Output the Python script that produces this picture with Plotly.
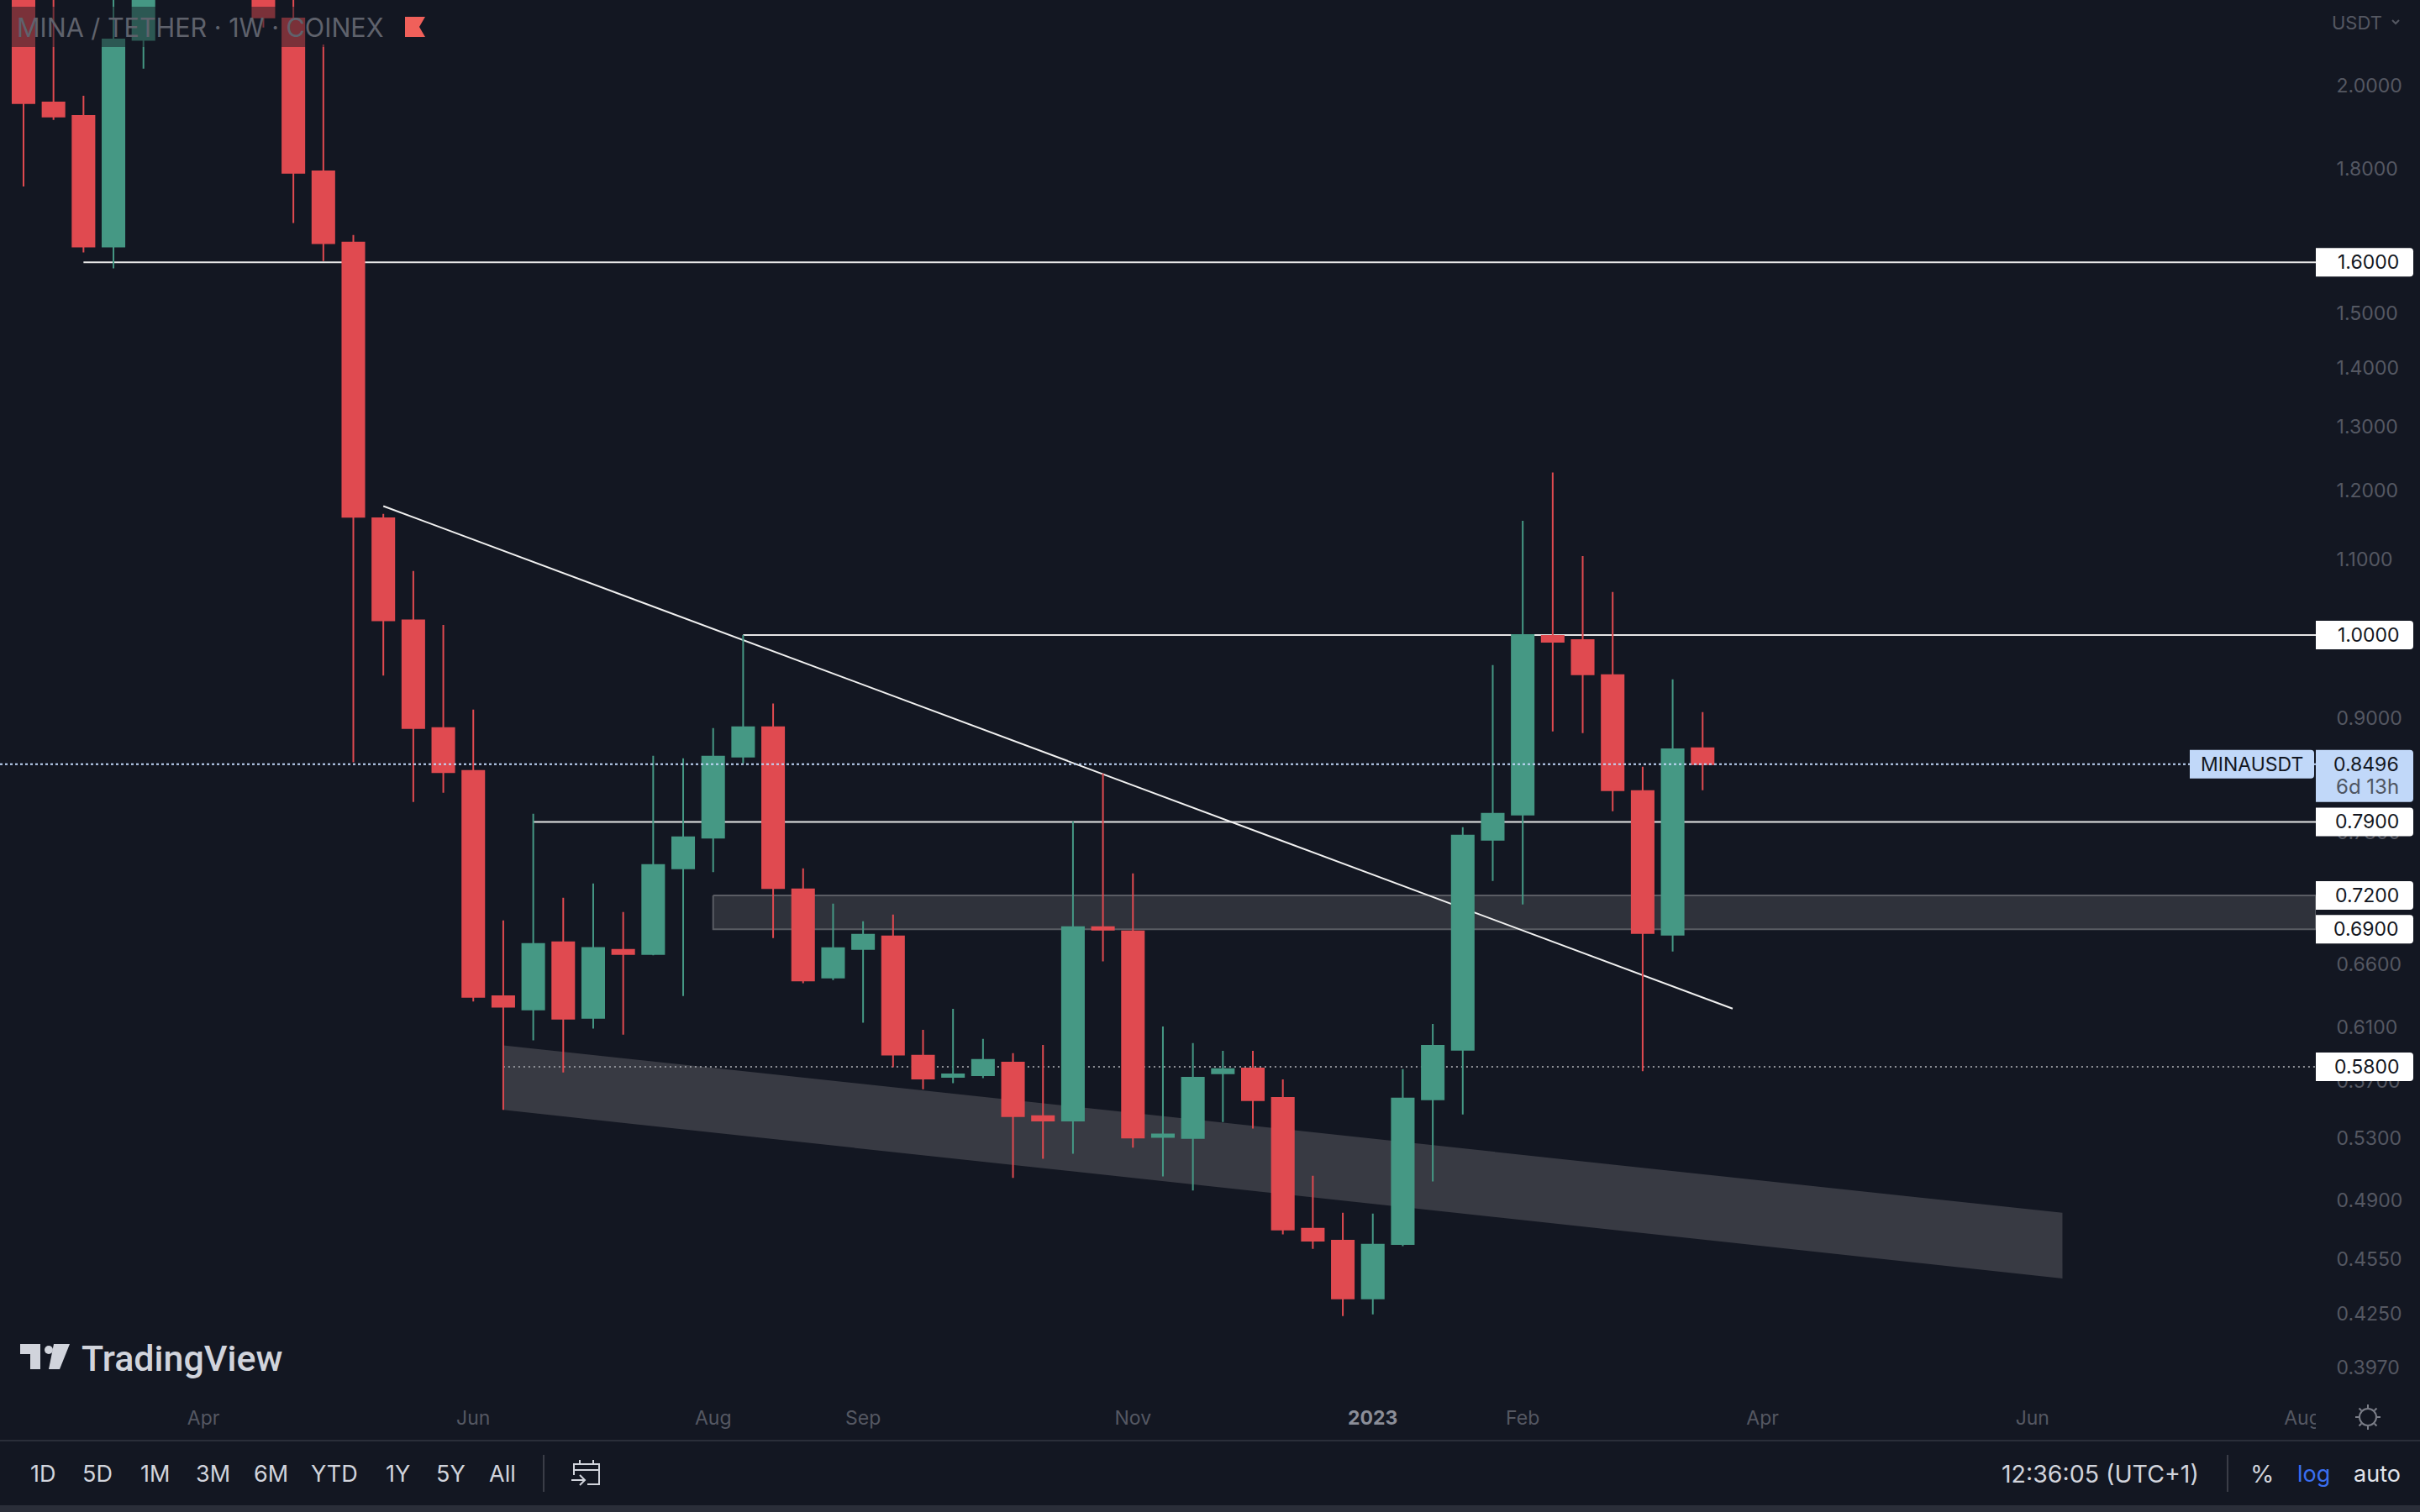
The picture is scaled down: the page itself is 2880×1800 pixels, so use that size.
import math

import pandas as pd
import plotly.graph_objects as go

BG = "#131722"
RED = "#e04a50"
GREEN = "#459884"
LINE = "#e6e6e6"
TICK = "#555862"
TOOL = "#d1d4dc"
TAG_BLUE = "#c1d8f9"
FONT = "Inter"

PLOT_W = 2756
PLOT_H = 1670

# weekly candles, the three above the visible range are left empty
weeks = pd.date_range("2022-02-21", periods=57, freq="7D")
opens = [2.30, 1.957, 1.9244, 1.632, 2.1177, None, None, None, 2.30, 2.1759,
         1.7944, 1.6401, 1.1585, 1.0186, 0.8892, 0.8425, 0.6341, 0.6235, 0.6787, 0.6170,
         0.6723, 0.6687, 0.7450, 0.7743, 0.8577, 0.8901, 0.7255, 0.6491, 0.6730, 0.6838,
         0.5882, 0.5728, 0.5740, 0.5832, 0.5450, 0.5421, 0.6918, 0.6881, 0.5310, 0.5303,
         0.5753, 0.5789, 0.5578, 0.4729, 0.4659, 0.4331, 0.4639, 0.5567, 0.5926, 0.7723,
         0.7973, 0.9988, 0.9936, 0.9506, 0.8212, 0.6853, 0.8668]
highs = [2.45, 2.35, 1.9739, 2.30, 2.60, None, None, None, 2.40, 2.30,
         2.1056, 1.6558, 1.165, 1.0841, 1.0127, 0.9102, 0.6977, 0.7981, 0.7179, 0.7309,
         0.7051, 0.8586, 0.8560, 0.8892, 1.0000, 0.9172, 0.7450, 0.7126, 0.6969, 0.7028,
         0.6078, 0.6241, 0.6008, 0.5901, 0.5963, 0.7906, 0.8397, 0.7403, 0.6104, 0.5977,
         0.5919, 0.5919, 0.5710, 0.5056, 0.4825, 0.4820, 0.5784, 0.6123, 0.7847, 0.9627,
         1.1549, 1.2272, 1.1046, 1.0556, 0.8468, 0.9456, 0.9073]
lows = [1.7605, 1.9148, 1.6199, 1.5876, 2.0426, None, None, None, 2.1514, 1.6811,
        1.6023, 0.8517, 0.9500, 0.8100, 0.8195, 0.6298, 0.5494, 0.5998, 0.5760, 0.6087,
        0.6041, 0.6676, 0.6343, 0.7414, 0.8505, 0.6824, 0.6445, 0.6472, 0.6133, 0.5797,
        0.5639, 0.5682, 0.5718, 0.5043, 0.5166, 0.5199, 0.6626, 0.5238, 0.5052, 0.4963,
        0.5410, 0.5366, 0.4696, 0.4611, 0.4236, 0.4245, 0.4627, 0.5020, 0.5462, 0.7332,
        0.7118, 0.8854, 0.8835, 0.8006, 0.5768, 0.6708, 0.8221]
closes = [1.9558, 1.9229, 1.6320, 2.119, 2.45, None, None, None, 2.1789, 1.7912,
          1.6389, 1.1605, 1.0186, 0.8892, 0.8410, 0.6336, 0.6257, 0.6773, 0.6163, 0.6738,
          0.6687, 0.7481, 0.7748, 0.8577, 0.8901, 0.7267, 0.6467, 0.6737, 0.6853, 0.5890,
          0.5716, 0.5746, 0.5851, 0.5450, 0.5421, 0.6918, 0.6896, 0.5305, 0.5326, 0.5722,
          0.5784, 0.5561, 0.4724, 0.4659, 0.4331, 0.4635, 0.5573, 0.5957, 0.7764, 0.7981,
          1.0000, 0.9914, 0.9516, 0.8221, 0.6867, 0.8658, 0.8496]

y_ticks = [2.0, 1.8, 1.6, 1.5, 1.4, 1.3, 1.2, 1.1, 1.0, 0.9, 0.78, 0.66,
           0.61, 0.57, 0.53, 0.49, 0.455, 0.425, 0.397]
x_tick_dates = ["2022-04-04", "2022-06-06", "2022-08-01", "2022-09-05", "2022-11-07",
                "2023-01-02", "2023-02-06", "2023-04-03", "2023-06-05", "2023-08-07"]
x_tick_text = ["Apr", "Jun", "Aug", "Sep", "Nov", "<b style='color:#8b8e98'>2023</b>", "Feb",
               "Apr", "Jun", "Aug"]

x_start = "2022-02-15 12:15"
x_end = "2023-08-10 03:36"

# drawn levels
level_16_start = "2022-03-07"
level_10_start = "2022-08-08"
level_079_start = "2022-06-20"
level_058_start = "2022-06-13"
zone_start = "2022-08-01"
zone_low, zone_high = 0.69, 0.72
last_price = 0.8496

trend_x = ["2022-05-16", "2023-03-27"]
trend_y = [1.1765, 0.6242]
band_x = ["2022-06-13", "2023-06-12", "2023-06-12", "2022-06-13", "2022-06-13"]
band_y = [0.5960, 0.4825, 0.4442, 0.5494, 0.5960]

tag_prices = [1.6, 1.0, 0.79, 0.72, 0.69, 0.58]
toolbar_left = ["1D", "5D", "1M", "3M", "6M", "YTD", "1Y", "5Y", "All"]
toolbar_left_x = [51, 116, 184, 253, 322, 398, 473, 536, 598]


def px(x):
    return x / PLOT_W


def py(y):
    return 1 - y / PLOT_H


def poly(points, close=False):
    parts = [f"{'M' if i == 0 else 'L'} {px(x):.6f} {py(y):.6f}" for i, (x, y) in enumerate(points)]
    return " ".join(parts) + (" Z" if close else "")


def poly_shape(points, fill=None, color=None, width=2, close=False):
    return dict(
        type="path", xref="paper", yref="paper", path=poly(points, close),
        fillcolor=fill if fill else "rgba(0,0,0,0)",
        line=dict(color=color if color else "rgba(0,0,0,0)", width=width),
    )


def rect_shape(x0, y0, x1, y1, fill):
    return dict(type="rect", xref="paper", yref="paper", x0=px(x0), x1=px(x1), y0=py(y1), y1=py(y0),
                fillcolor=fill, line=dict(width=0))


def text_note(x, y, text, size=27, color=TOOL, anchor="center", family=FONT, weight=None):
    return dict(xref="paper", yref="paper", x=px(x), y=py(y), text=text, showarrow=False,
                xanchor=anchor, yanchor="middle", font=dict(family=family, size=size, color=color, weight=weight))


def price_tag(price, x0=0, x1=116, up=17, down=17, fill="#ffffff"):
    path = (f"M {x0} {-down} L {x1 - 4} {-down} Q {x1} {-down} {x1} {-down + 4} "
            f"L {x1} {up - 4} Q {x1} {up} {x1 - 4} {up} L {x0} {up} Z")
    return dict(type="path", xref="paper", yref="y", xsizemode="pixel", ysizemode="pixel",
                xanchor=1, yanchor=price, path=path, fillcolor=fill, line=dict(width=0))


fig = go.Figure()

# zorder keeps the drawings under the candles, scatter would sit on top otherwise
fig.add_trace(go.Scatter(x=band_x, y=band_y, mode="lines", fill="toself", fillcolor="#383a43",
                         line=dict(width=0), hoverinfo="skip", zorder=0))
fig.add_trace(go.Scatter(x=[zone_start, x_end, x_end, zone_start, zone_start],
                         y=[zone_high, zone_high, zone_low, zone_low, zone_high],
                         mode="lines", fill="toself", fillcolor="#2f323b",
                         line=dict(color="#5a5c63", width=2), hoverinfo="skip", zorder=0))
for start, price in [(level_16_start, 1.6), (level_10_start, 1.0), (level_079_start, 0.79)]:
    fig.add_trace(go.Scatter(x=[start, x_end], y=[price, price], mode="lines",
                             line=dict(color=LINE, width=2), hoverinfo="skip", zorder=0))
fig.add_trace(go.Scatter(x=[level_058_start, x_end], y=[0.58, 0.58], mode="lines",
                         line=dict(color="#8f9197", width=2, dash="2px,4px"), hoverinfo="skip", zorder=0))
fig.add_trace(go.Scatter(x=trend_x, y=trend_y, mode="lines", line=dict(color="#f0f0f0", width=2),
                         hoverinfo="skip", zorder=0))

fig.add_trace(go.Candlestick(
    x=weeks, open=opens, high=highs, low=lows, close=closes,
    whiskerwidth=0,
    increasing=dict(fillcolor=GREEN, line=dict(color=GREEN, width=2)),
    decreasing=dict(fillcolor=RED, line=dict(color=RED, width=2)),
    hoverinfo="skip",
    zorder=1,
))

fig.add_trace(go.Scatter(x=[x_start, x_end], y=[last_price, last_price], mode="lines",
                         line=dict(color=TAG_BLUE, width=2, dash="3px,3px"), hoverinfo="skip", zorder=2))

shapes = []
# legend backdrop and flag
shapes.append(rect_shape(0, 8, 520, 56, "rgba(19,23,34,0.5)"))
shapes.append(poly_shape([(482, 20), (506, 20), (499, 32), (506, 44), (482, 44)], fill="#f0605a", close=True))
# price tags
for p in tag_prices:
    shapes.append(price_tag(p))
shapes.append(price_tag(last_price, up=17, down=45, fill=TAG_BLUE))
shapes.append(price_tag(last_price, x0=-150, x1=-2, up=17, down=17, fill=TAG_BLUE))
# hides the end of the last time label at the price scale edge
shapes.append(rect_shape(2756, 1672, 2795, 1712, BG))
# sun icon
shapes.append(dict(type="circle", xref="paper", yref="paper", x0=px(2808), x1=px(2828), y0=py(1697), y1=py(1677),
                   line=dict(color="#7b7e88", width=2)))
for dx, dy in [(0, 1), (0, -1), (1, 0), (-1, 0), (0.7, 0.7), (-0.7, 0.7), (0.7, -0.7), (-0.7, -0.7)]:
    shapes.append(poly_shape([(2818 + dx * 11, 1687 + dy * 11), (2818 + dx * 15, 1687 + dy * 15)], color="#7b7e88"))
# TradingView logo
shapes.append(poly_shape([(24, 1600), (48, 1600), (48, 1630), (36, 1630), (36, 1612), (24, 1612)], fill=TOOL, close=True))
shapes.append(dict(type="circle", xref="paper", yref="paper", x0=px(53), x1=px(63), y0=py(1612), y1=py(1602),
                   fillcolor=TOOL, line=dict(width=0)))
shapes.append(poly_shape([(64, 1600), (83, 1600), (71, 1630), (58, 1630)], fill=TOOL, close=True))
# bottom toolbar
shapes.append(rect_shape(0, 1714, 2880, 1716, "#2a2e39"))
shapes.append(rect_shape(0, 1792, 2880, 1800, "#2a2e39"))
shapes.append(rect_shape(646, 1732, 648, 1776, "#3a3d47"))
shapes.append(rect_shape(2650, 1732, 2652, 1776, "#3a3d47"))
# calendar icon
shapes.append(poly_shape([(683, 1756), (683, 1743), (713, 1743), (713, 1767), (699, 1767)], color=TOOL))
shapes.append(poly_shape([(683, 1750), (713, 1750)], color=TOOL))
shapes.append(poly_shape([(690, 1738), (690, 1743)], color=TOOL))
shapes.append(poly_shape([(706, 1738), (706, 1743)], color=TOOL))
shapes.append(poly_shape([(680, 1762), (696, 1762)], color=TOOL))
shapes.append(poly_shape([(690, 1756), (696, 1762), (690, 1768)], color=TOOL))
# chevron next to the currency
shapes.append(poly_shape([(2847, 24), (2851, 28), (2855, 24)], color=TICK))

notes = []
notes.append(text_note(18, 33, "MINA / TETHER · 1W · COINEX", size=30.5, color="#5f626c", anchor="left"))
notes.append(text_note(95, 1617, "TradingView", size=43, color=TOOL, anchor="left", family="Roboto", weight=500))
notes.append(text_note(2805, 27, "USDT", size=22, color=TICK))
for p in tag_prices:
    notes.append(dict(xref="paper", yref="y", x=px(2857), y=math.log10(p), text=f"{p:.4f}", showarrow=False,
                      xanchor="right", yanchor="middle", font=dict(family=FONT, size=23, color="#131722")))
notes.append(dict(xref="paper", yref="y", x=px(2857), y=math.log10(last_price), text=f"{last_price:.4f}",
                  showarrow=False, xanchor="right", yanchor="middle",
                  font=dict(family=FONT, size=23, color="#131722")))
notes.append(text_note(2857, 936, "6d 13h", size=24, color="#4f5663", anchor="right"))
notes.append(dict(xref="paper", yref="y", x=px(2680), y=math.log10(last_price), text="MINAUSDT", showarrow=False,
                  xanchor="center", yanchor="middle", font=dict(family=FONT, size=23, color="#131722")))
for label, x in zip(toolbar_left, toolbar_left_x):
    notes.append(text_note(x, 1755, label))
notes.append(text_note(2499, 1755, "12:36:05 (UTC+1)", size=28.5))
notes.append(text_note(2692, 1755, "%", size=29))
notes.append(text_note(2753, 1755, "log", color="#3a6ff0"))
notes.append(text_note(2829, 1755, "auto", color="#e0e3eb"))

fig.update_layout(
    width=2880,
    height=1800,
    paper_bgcolor=BG,
    plot_bgcolor=BG,
    showlegend=False,
    boxgap=0.27,
    boxgroupgap=0,
    margin=dict(l=0, r=124, t=0, b=130, pad=0),
    xaxis=dict(
        type="date",
        range=[x_start, x_end],
        rangeslider=dict(visible=False),
        showgrid=False,
        zeroline=False,
        showline=False,
        tickmode="array",
        tickvals=x_tick_dates,
        ticktext=x_tick_text,
        ticks="",
        ticklabelstandoff=2,
        tickfont=dict(family=FONT, size=23, color=TICK),
    ),
    yaxis=dict(
        type="log",
        side="right",
        range=[-0.42054, 0.34775],
        showgrid=False,
        zeroline=False,
        showline=False,
        tickmode="array",
        tickvals=y_ticks,
        ticktext=[f"{t:.4f}" for t in y_ticks],
        ticks="outside",
        ticklen=19,
        tickcolor=BG,
        tickfont=dict(family=FONT, size=23, color=TICK),
    ),
    shapes=shapes,
    annotations=notes,
)

# the browser's default body margin would shift the whole chart
fig.write_html("out.html", config={"displayModeBar": False},
               post_script="document.body.style.margin = '0';")
